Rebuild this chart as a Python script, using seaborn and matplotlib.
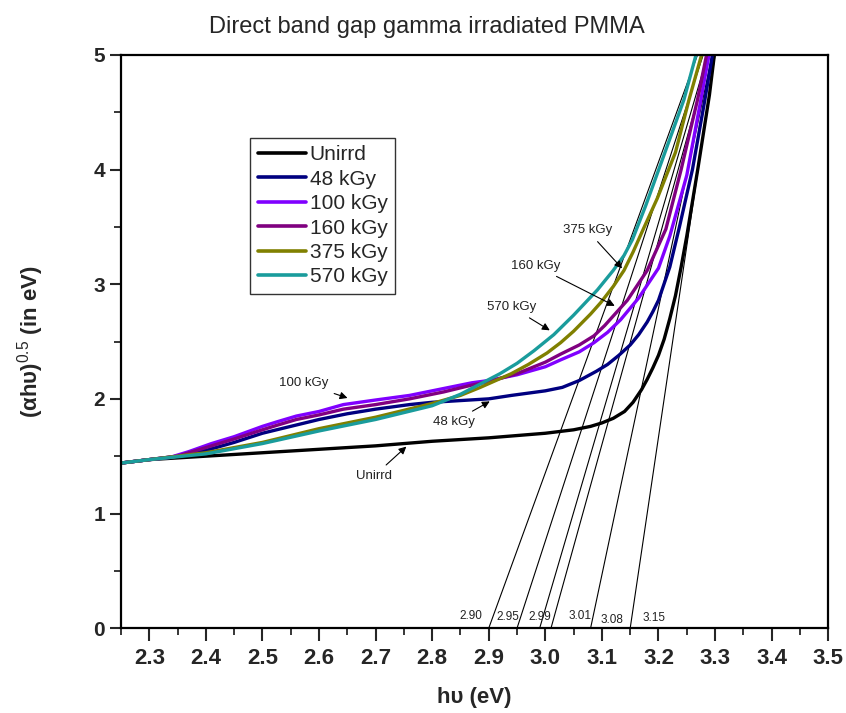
import matplotlib
matplotlib.use("Agg")
import matplotlib.pyplot as plt
from matplotlib.ticker import MultipleLocator
import pandas as pd
import seaborn as sns

# curves: (alpha h nu)^0.5 vs h nu
X_UNIRRD = [2.25, 2.30, 2.40, 2.50, 2.60, 2.70, 2.80, 2.90, 3.00, 3.05, 3.08, 3.10, 3.12, 3.14,
            3.155, 3.17, 3.18, 3.19, 3.20, 3.21, 3.22, 3.23, 3.24, 3.25, 3.27, 3.29, 3.30]
Y_UNIRRD = [1.44, 1.47, 1.50, 1.53, 1.56, 1.59, 1.63, 1.66, 1.70, 1.73, 1.76, 1.79, 1.83, 1.89,
            1.97, 2.08, 2.17, 2.27, 2.38, 2.52, 2.70, 2.90, 3.15, 3.42, 4.02, 4.65, 5.05]
X_48 = [2.25, 2.30, 2.35, 2.40, 2.45, 2.50, 2.55, 2.60, 2.65, 2.70, 2.76, 2.80, 2.90, 2.94, 3.00,
        3.03, 3.06, 3.09, 3.11, 3.13, 3.15, 3.165, 3.18, 3.19, 3.20, 3.22, 3.237, 3.26, 3.282,
        3.297]
Y_48 = [1.44, 1.47, 1.50, 1.55, 1.62, 1.70, 1.76, 1.82, 1.87, 1.91, 1.95, 1.97, 2.00, 2.03, 2.07,
        2.10, 2.16, 2.24, 2.30, 2.38, 2.47, 2.56, 2.67, 2.76, 2.86, 3.15, 3.50, 4.00, 4.61, 5.05]
X_100 = [2.25, 2.30, 2.337, 2.37, 2.41, 2.45, 2.50, 2.526, 2.56, 2.60, 2.643, 2.70, 2.76, 2.82,
         2.87, 2.90, 2.95, 3.00, 3.027, 3.06, 3.086, 3.11, 3.133, 3.165, 3.20, 3.22, 3.25, 3.275,
         3.291]
Y_100 = [1.44, 1.47, 1.49, 1.54, 1.61, 1.67, 1.76, 1.80, 1.85, 1.89, 1.95, 1.99, 2.03, 2.09,
         2.14, 2.16, 2.21, 2.28, 2.34, 2.41, 2.49, 2.58, 2.69, 2.88, 3.14, 3.42, 3.95, 4.61, 5.05]
X_160 = [2.25, 2.30, 2.35, 2.41, 2.45, 2.50, 2.526, 2.56, 2.60, 2.643, 2.70, 2.76, 2.82, 2.87,
         2.90, 2.95, 3.00, 3.027, 3.06, 3.086, 3.105, 3.125, 3.145, 3.18, 3.213, 3.24, 3.269,
         3.287]
Y_160 = [1.44, 1.47, 1.50, 1.59, 1.65, 1.73, 1.77, 1.82, 1.86, 1.91, 1.95, 2.00, 2.06, 2.12,
         2.15, 2.22, 2.32, 2.39, 2.47, 2.55, 2.64, 2.75, 2.86, 3.12, 3.48, 4.00, 4.61, 5.05]
X_375 = [2.25, 2.30, 2.40, 2.50, 2.60, 2.70, 2.75, 2.80, 2.85, 2.885, 2.94, 2.97, 3.003, 3.027,
         3.05, 3.08, 3.098, 3.12, 3.139, 3.155, 3.174, 3.198, 3.23, 3.254, 3.279]
Y_375 = [1.44, 1.47, 1.53, 1.62, 1.74, 1.84, 1.90, 1.96, 2.03, 2.10, 2.22, 2.30, 2.40, 2.49,
         2.59, 2.74, 2.84, 2.98, 3.12, 3.28, 3.49, 3.75, 4.15, 4.61, 5.05]
X_570 = [2.25, 2.30, 2.40, 2.50, 2.60, 2.70, 2.80, 2.85, 2.885, 2.92, 2.95, 2.98, 3.015, 3.05,
         3.092, 3.12, 3.139, 3.154, 3.177, 3.21, 3.245, 3.269]
Y_570 = [1.44, 1.47, 1.52, 1.61, 1.72, 1.82, 1.94, 2.04, 2.13, 2.22, 2.31, 2.42, 2.56, 2.73,
         2.95, 3.12, 3.25, 3.39, 3.68, 4.13, 4.61, 5.05]

DOSES = ["Unirrd", "48 kGy", "100 kGy", "160 kGy", "375 kGy", "570 kGy"]
COLORS = ["#000000", "#000080", "#8000FF", "#800080", "#808000", "#1a9c9c"]

# band gap extrapolations (x intercept -> where the line reaches y = 5)
EG = [2.90, 2.95, 2.99, 3.01, 3.08, 3.15]
EG_TOP = [3.269, 3.279, 3.287, 3.291, 3.295, 3.300]
EG_LABELS = ["2.90", "2.95", "2.99", "3.01", "3.08", "3.15"]
EG_LABEL_X = [2.868, 2.934, 2.990, 3.061, 3.118, 3.192]
EG_LABEL_Y = [0.11, 0.10, 0.10, 0.11, 0.075, 0.085]

frames = []
for dose, xs, ys in zip(DOSES,
                        [X_UNIRRD, X_48, X_100, X_160, X_375, X_570],
                        [Y_UNIRRD, Y_48, Y_100, Y_160, Y_375, Y_570]):
    frames.append(pd.DataFrame({"hv": xs, "val": ys, "dose": dose}))
df = pd.concat(frames, ignore_index=True)

sns.set_theme(style="ticks")
plt.rcParams["font.family"] = ["Liberation Sans", "DejaVu Sans"]
plt.rcParams["mathtext.fontset"] = "custom"
plt.rcParams["mathtext.rm"] = "Liberation Sans"

fig = plt.figure(figsize=(8.46, 7.13), dpi=100)
ax = fig.add_axes([0.143, 0.119, 0.836, 0.804])

# tangent lines first, so the curves sit on top
for eg, top in zip(EG, EG_TOP):
    ax.plot([eg, top], [0, 5], color="black", lw=0.8)

sns.lineplot(data=df, x="hv", y="val", hue="dose", hue_order=DOSES, palette=COLORS,
             linewidth=2.4, estimator=None, sort=True, ax=ax)

for lx, ly, lab in zip(EG_LABEL_X, EG_LABEL_Y, EG_LABELS):
    ax.text(lx, ly, lab, fontsize=8.5, ha="center", va="center", color="#222222")

arrow = dict(arrowstyle="-|>", color="black", lw=0.8, mutation_scale=11)
notes = [  # label, text position, arrow tip
    ("375 kGy", (3.074, 3.47), (3.139, 3.12)),
    ("160 kGy", (2.983, 3.16), (3.127, 2.80)),
    ("570 kGy", (2.941, 2.80), (3.012, 2.585)),
    ("100 kGy", (2.573, 2.135), (2.655, 2.00)),
    ("48 kGy", (2.838, 1.80), (2.906, 1.99)),
    ("Unirrd", (2.697, 1.326), (2.758, 1.60)),
]
for lab, txt, tip in notes:
    ax.annotate(lab, xy=tip, xytext=txt, fontsize=9.5, ha="center", va="center",
                color="#222222", arrowprops=arrow)

ax.set_xlim(2.25, 3.5)
ax.set_ylim(0, 5)
ax.xaxis.set_minor_locator(MultipleLocator(0.05))
ax.yaxis.set_major_locator(MultipleLocator(1))
ax.yaxis.set_minor_locator(MultipleLocator(0.5))
ax.set_xticks([2.3, 2.4, 2.5, 2.6, 2.7, 2.8, 2.9, 3.0, 3.1, 3.2, 3.3, 3.4, 3.5])
ax.tick_params(axis="x", which="major", direction="out", length=9, width=1.5, labelsize=16,
               pad=5)
ax.tick_params(axis="y", which="major", direction="out", length=8, width=1.5, labelsize=15)
ax.tick_params(which="minor", direction="out", length=5, width=1.3)
for lbl in ax.get_xticklabels() + ax.get_yticklabels():
    lbl.set_fontweight("bold")
for sp in ax.spines.values():
    sp.set_linewidth(1.6)
    sp.set_color("black")

ax.set_xlabel("h\u03c5 (eV)", fontsize=16, fontweight="bold", labelpad=13)
ax.set_ylabel("(\u03b1h\u03c5)$^{0.5}$ (in eV)", fontsize=16, fontweight="bold", labelpad=34)
fig.text(0.505, 0.962, "Direct band gap gamma irradiated PMMA", fontsize=17,
         ha="center", va="center")

leg = ax.legend(loc="upper left", bbox_to_anchor=(0.183, 0.855), borderaxespad=0,
                fontsize=15, handlelength=2.3, handletextpad=0.2, labelspacing=0.26,
                frameon=True, fancybox=False, borderpad=0.35)
leg.set_title(None)
leg.get_frame().set_edgecolor("black")
leg.get_frame().set_linewidth(1.0)
for line in leg.get_lines():
    line.set_linewidth(2.6)

fig.savefig("out.png", dpi=100)
